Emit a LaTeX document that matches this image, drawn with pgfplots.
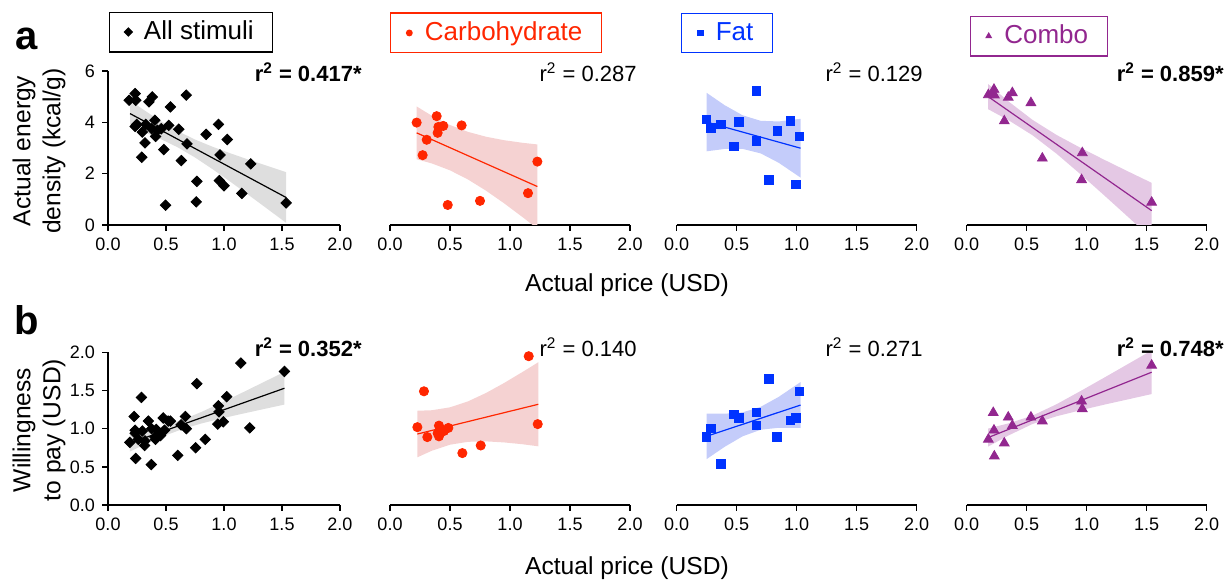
\documentclass[border=0pt]{standalone}
\usepackage{pgfplots}
\pgfplotsset{compat=1.18}
\usepackage{fontspec}
\setmainfont{Liberation Sans}
\definecolor{cred}{RGB}{255,38,0}
\definecolor{cblue}{RGB}{0,51,255}
\definecolor{cpurp}{RGB}{146,39,143}
\definecolor{bgray}{RGB}{222,222,222}
\definecolor{bred}{RGB}{245,210,210}
\definecolor{bblue}{RGB}{196,204,250}
\definecolor{bpurp}{RGB}{228,200,228}
\pgfplotsset{
  base/.style={
    scale only axis, anchor=south west,
    axis lines*=left, xmin=0, xmax=2, xtick={0,0.5,1,1.5,2},
    tick align=outside, major tick length=3pt,
    every tick/.style={black, line width=0.75pt},
    axis line style={black, line width=0.75pt},
    x tick label style={/pgf/number format/.cd, fixed, fixed zerofill, precision=1, /tikz/.cd},
    tick label style={font=\fontsize{9}{10}\selectfont},
    /pgf/number format/assume math mode=true,
    legend cell align=left,
  },
  legimg/.style={legend image code/.code={\path (-1.5pt,0pt) (5.5pt,0pt); \draw[##1, mark size=1.4pt] plot coordinates {(0pt,0pt)};}},
  rowa/.style={height=77pt, ymin=0, ymax=6, ytick={0,2,4,6}},
  rowb/.style={height=76.3pt, ymin=0, ymax=2, ytick={0,0.5,1,1.5,2},
    y tick label style={/pgf/number format/.cd, fixed, fixed zerofill, precision=1, /tikz/.cd}},
  leg/.style={legend style={at={(axis description cs:#1)}, anchor=center, line width=0.6pt,
    font=\fontsize{13}{15}\selectfont, inner xsep=7.5pt, inner ysep=2.5pt}},
}
\begin{document}
\begin{tikzpicture}
\path[use as bounding box] (0,0) rectangle (615.5pt,290.5pt);

% ---------------- Row a ----------------
\begin{axis}[base, rowa, at={(54pt,178pt)}, width=116pt, leg={0.358,1.253},
  legend style={draw=black, text=black}]
\addplot[fill=bgray, draw=none, forget plot] coordinates {(0.19,4.858)(0.3,4.509)(0.45,4.059)(0.6,3.660)(0.75,3.330)(0.9,3.051)(1.05,2.801)(1.2,2.564)(1.35,2.336)(1.536,2.058)(1.536,0.082)(1.35,0.708)(1.2,1.208)(1.05,1.701)(0.9,2.179)(0.75,2.630)(0.6,3.028)(0.45,3.359)(0.3,3.637)(0.19,3.822)};
\addplot[black, line width=0.6pt, forget plot] coordinates {(0.19,4.340)(1.536,1.070)};
\addplot[only marks, black, mark=square*, mark options={rotate=45}, mark size=1.85pt, legimg] table {
x y
0.182 4.86
0.234 5.12
0.239 4.86
0.248 3.92
0.234 3.84
0.296 3.62
0.325 3.92
0.319 3.20
0.291 2.64
0.353 4.80
0.382 4.99
0.376 3.75
0.404 4.08
0.410 3.45
0.425 3.69
0.459 3.75
0.481 2.94
0.496 0.77
0.524 3.88
0.538 4.60
0.610 3.73
0.632 2.51
0.675 5.06
0.681 3.16
0.766 1.70
0.761 0.90
0.846 3.53
0.952 3.92
0.966 2.73
0.960 1.73
1.000 1.53
1.028 3.33
1.154 1.23
1.231 2.38
1.536 0.86
};
\addlegendentry{All stimuli}
\end{axis}

\begin{axis}[base, rowa, at={(195pt,178pt)}, width=120pt, hide y axis, leg={0.442,1.247},
  legend style={draw=cred, text=cred}]
\addplot[fill=bred, draw=none, forget plot] coordinates {(0.222,4.619)(0.35,4.252)(0.5,3.895)(0.65,3.628)(0.8,3.439)(0.95,3.304)(1.1,3.205)(1.228,3.138)(1.228,-0.142)(1.1,0.323)(0.95,0.848)(0.8,1.337)(0.65,1.772)(0.5,2.129)(0.35,2.396)(0.222,2.561)};
\addplot[cred, line width=0.6pt, forget plot] coordinates {(0.222,3.590)(1.228,1.498)};
\addplot[only marks, cred, mark=*, mark size=2.3pt, legimg] table {
x y
0.222 3.99
0.389 4.24
0.403 3.82
0.444 3.86
0.397 3.59
0.597 3.88
0.306 3.32
0.272 2.72
1.228 2.47
1.150 1.24
0.750 0.94
0.481 0.78
};
\addlegendentry{Carbohydrate}
\end{axis}

\begin{axis}[base, rowa, at={(338.3pt,178pt)}, width=120pt, hide y axis, leg={0.21,1.247},
  legend style={draw=cblue, text=cblue}]
\addplot[fill=bblue, draw=none, forget plot] coordinates {(0.25,5.150)(0.4,4.668)(0.55,4.275)(0.7,4.059)(0.85,4.034)(1.033,4.138)(1.033,1.846)(0.85,2.426)(0.7,2.791)(0.55,2.965)(0.4,2.962)(0.25,2.870)};
\addplot[cblue, line width=0.6pt, forget plot] coordinates {(0.25,4.010)(1.033,2.992)};
\addplot[only marks, cblue, mark=square*, mark size=2.1pt, legimg] table {
x y
0.250 4.12
0.286 3.78
0.369 3.91
0.519 4.01
0.478 3.07
0.667 5.23
0.667 3.27
0.842 3.66
0.950 4.05
1.025 3.45
0.769 1.75
0.994 1.58
};
\addlegendentry{Fat}
\end{axis}

\begin{axis}[base, rowa, at={(483.3pt,178pt)}, width=120pt, hide y axis, leg={0.30,1.227},
  legend style={draw=cpurp, text=cpurp}]
\addplot[fill=bpurp, draw=none, forget plot] coordinates {(0.18,5.490)(0.35,4.811)(0.55,4.093)(0.75,3.507)(0.95,3.005)(1.15,2.534)(1.35,2.076)(1.542,1.642)(1.542,-0.524)(1.35,0.294)(1.15,1.140)(0.95,1.973)(0.75,2.775)(0.55,3.493)(0.35,4.079)(0.18,4.510)};
\addplot[cpurp, line width=0.6pt, forget plot] coordinates {(0.18,5.000)(1.542,0.559)};
\addplot[only marks, cpurp, mark=triangle*, mark size=2.8pt, legimg] table {
x y
0.181 5.07
0.222 5.10
0.228 5.28
0.231 5.06
0.347 4.97
0.381 5.15
0.536 4.76
0.314 4.05
0.631 2.60
0.964 2.81
0.958 1.76
1.542 0.88
};
\addlegendentry{Combo}
\end{axis}

% ---------------- Row b ----------------
\begin{axis}[base, rowb, at={(54pt,38pt)}, width=116pt]
\addplot[fill=bgray, draw=none] coordinates {(0.188,0.920)(0.35,0.980)(0.5,1.043)(0.65,1.121)(0.8,1.216)(0.95,1.321)(1.1,1.430)(1.3,1.579)(1.521,1.744)(1.521,1.316)(1.3,1.243)(1.1,1.176)(0.95,1.123)(0.8,1.066)(0.65,0.999)(0.5,0.915)(0.35,0.816)(0.188,0.700)};
\addplot[black, line width=0.6pt] coordinates {(0.188,0.810)(1.521,1.530)};
\addplot[only marks, black, mark=square*, mark options={rotate=45}, mark size=1.85pt] table {
x y
0.188 0.82
0.225 1.16
0.234 0.98
0.234 0.94
0.239 0.61
0.262 0.86
0.288 1.41
0.296 0.97
0.319 0.84
0.316 0.78
0.348 1.10
0.376 1.00
0.373 0.53
0.405 0.89
0.416 0.99
0.410 0.86
0.453 0.91
0.476 1.14
0.487 0.98
0.519 1.10
0.538 1.10
0.601 0.65
0.630 1.05
0.667 1.16
0.675 1.00
0.755 0.75
0.766 1.59
0.838 0.86
0.952 1.30
0.957 1.22
0.946 1.06
0.994 1.09
1.023 1.42
1.145 1.86
1.222 1.01
1.521 1.75
};
\end{axis}

\begin{axis}[base, rowb, at={(195pt,38pt)}, width=120pt, hide y axis]
\addplot[fill=bred, draw=none] coordinates {(0.228,1.235)(0.35,1.242)(0.5,1.280)(0.65,1.358)(0.8,1.468)(0.95,1.598)(1.1,1.739)(1.236,1.871)(1.236,0.769)(1.1,0.797)(0.95,0.820)(0.8,0.834)(0.65,0.828)(0.5,0.790)(0.35,0.712)(0.228,0.625)};
\addplot[cred, line width=0.6pt] coordinates {(0.228,0.930)(1.236,1.320)};
\addplot[only marks, cred, mark=*, mark size=2.3pt] table {
x y
0.283 1.49
0.228 1.02
0.311 0.89
0.408 1.04
0.397 0.94
0.408 0.90
0.450 0.97
0.486 1.01
0.603 0.68
0.756 0.78
1.156 1.95
1.231 1.06
};
\end{axis}

\begin{axis}[base, rowb, at={(338.3pt,38pt)}, width=120pt, hide y axis]
\addplot[fill=bblue, draw=none] coordinates {(0.25,1.199)(0.4,1.196)(0.55,1.214)(0.7,1.286)(0.85,1.416)(1.033,1.611)(1.033,1.009)(0.85,1.012)(0.7,0.986)(0.55,0.900)(0.4,0.762)(0.25,0.601)};
\addplot[cblue, line width=0.6pt] coordinates {(0.25,0.900)(1.033,1.310)};
\addplot[only marks, cblue, mark=square*, mark size=2.1pt] table {
x y
0.250 0.89
0.286 1.00
0.369 0.54
0.478 1.19
0.519 1.14
0.667 1.21
0.667 1.04
0.769 1.65
0.836 0.89
0.950 1.11
0.994 1.14
1.025 1.49
};
\end{axis}

\begin{axis}[base, rowb, at={(483.3pt,38pt)}, width=120pt, hide y axis]
\addplot[fill=bpurp, draw=none] coordinates {(0.18,1.002)(0.35,1.070)(0.55,1.172)(0.75,1.321)(0.95,1.494)(1.15,1.672)(1.35,1.852)(1.542,2.026)(1.542,1.454)(1.35,1.386)(1.15,1.316)(0.95,1.242)(0.75,1.163)(0.55,1.062)(0.35,0.912)(0.18,0.766)};
\addplot[cpurp, line width=0.6pt] coordinates {(0.18,0.884)(1.542,1.740)};
\addplot[only marks, cpurp, mark=triangle*, mark size=2.8pt] table {
x y
0.181 0.86
0.222 1.21
0.228 0.98
0.231 0.64
0.314 0.81
0.347 1.15
0.381 1.04
0.536 1.15
0.631 1.10
0.958 1.36
0.964 1.26
1.542 1.83
};
\end{axis}

% ---------------- Texts ----------------
\node[font=\fontsize{20}{20}\selectfont\bfseries] at (13.5pt,271pt) {a};
\node[font=\fontsize{20}{20}\selectfont\bfseries] at (13.5pt,130.5pt) {b};
\node[rotate=90, align=center, font=\fontsize{12.3}{15}\selectfont] at (19.5pt,215pt) {Actual energy\\density (kcal/g)};
\node[rotate=90, align=center, font=\fontsize{12.3}{15}\selectfont] at (19.5pt,75.5pt) {Willingness\\to pay (USD)};
\node[font=\fontsize{12.3}{14}\selectfont] at (313.5pt,148pt) {Actual price (USD)};
\node[font=\fontsize{12.3}{14}\selectfont] at (313.5pt,6.5pt) {Actual price (USD)};

\node[anchor=east, font=\fontsize{11}{12}\selectfont\bfseries, inner sep=0pt] at (181pt,254.5pt) {r\textsuperscript{2} = 0.417*};
\node[anchor=east, font=\fontsize{11}{12}\selectfont, inner sep=0pt] at (318.5pt,254.5pt) {r\textsuperscript{2} = 0.287};
\node[anchor=east, font=\fontsize{11}{12}\selectfont, inner sep=0pt] at (461.5pt,254.5pt) {r\textsuperscript{2} = 0.129};
\node[anchor=east, font=\fontsize{11}{12}\selectfont\bfseries, inner sep=0pt] at (612pt,254.5pt) {r\textsuperscript{2} = 0.859*};
\node[anchor=east, font=\fontsize{11}{12}\selectfont\bfseries, inner sep=0pt] at (181pt,117pt) {r\textsuperscript{2} = 0.352*};
\node[anchor=east, font=\fontsize{11}{12}\selectfont, inner sep=0pt] at (318.5pt,117pt) {r\textsuperscript{2} = 0.140};
\node[anchor=east, font=\fontsize{11}{12}\selectfont, inner sep=0pt] at (461.5pt,117pt) {r\textsuperscript{2} = 0.271};
\node[anchor=east, font=\fontsize{11}{12}\selectfont\bfseries, inner sep=0pt] at (612pt,117pt) {r\textsuperscript{2} = 0.748*};
\end{tikzpicture}
\end{document}
